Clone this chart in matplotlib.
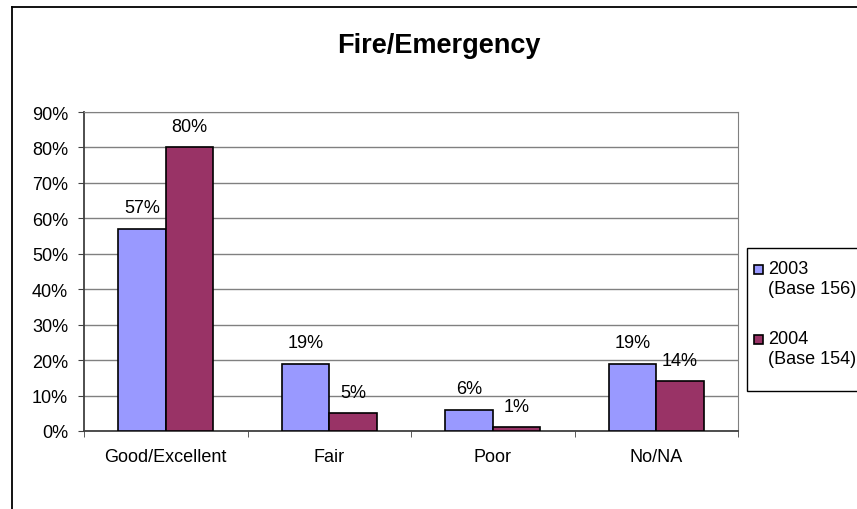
import matplotlib
matplotlib.use("Agg")
import matplotlib.pyplot as plt
from matplotlib.lines import Line2D
from matplotlib.patches import Rectangle
from matplotlib.ticker import FuncFormatter
import numpy as np

plt.rcParams['font.family'] = ['Liberation Sans', 'DejaVu Sans']

categories = ["Good/Excellent", "Fair", "Poor", "No/NA"]
values_2003 = [57, 19, 6, 19]
values_2004 = [80, 5, 1, 14]
series_names = ["2003", "2004"]
series_bases = ["(Base 156)", "(Base 154)"]
colors = ['#9999FF', '#993366']
title = "Fire/Emergency"

W, H = 857, 510
fig = plt.figure(figsize=(W / 100, H / 100), dpi=100)

def fx(px):
    return px / W

def fy(py):
    return 1 - py / H

# outer chart border (right and bottom edges fall outside the image)
fig.add_artist(Line2D([fx(12), fx(12)], [0, fy(8)], color='black', lw=1.3, transform=fig.transFigure))
fig.add_artist(Line2D([fx(12), 1], [fy(8), fy(8)], color='black', lw=1.3, transform=fig.transFigure))

ax = fig.add_axes([fx(84), fy(432), (738 - 84) / W, (432 - 113) / H])

x = np.arange(len(categories))
width = 0.29
b1 = ax.bar(x - width / 2, values_2003, width, color=colors[0], edgecolor='black', linewidth=1.2, zorder=3)
b2 = ax.bar(x + width / 2, values_2004, width, color=colors[1], edgecolor='black', linewidth=1.2, zorder=3)
ax.bar_label(b1, labels=[f"{v}%" for v in values_2003], padding=9, fontsize=13)
ax.bar_label(b2, labels=[f"{v}%" for v in values_2004], padding=9, fontsize=13)

ax.set_xlim(-0.5, len(categories) - 0.5)
ax.set_ylim(0, 90)
ax.set_yticks(np.arange(0, 91, 10))
ax.yaxis.set_major_formatter(FuncFormatter(lambda v, p: f"{v:.0f}%"))
ax.set_xticks(x)
ax.set_xticklabels(categories)
ax.set_xticks(np.arange(-0.5, len(categories), 1), minor=True)
ax.tick_params(axis='x', which='major', length=0, pad=12, labelsize=13)
ax.tick_params(axis='x', which='minor', length=4.5, direction='out', color='#404040')
ax.tick_params(axis='y', length=4.5, direction='out', color='#404040', labelsize=13, pad=7)
ax.grid(axis='y', color='#808080', linewidth=1, zorder=0)
ax.set_axisbelow(True)
for side in ['top', 'right']:
    ax.spines[side].set_color('#808080')
for side in ['left', 'bottom']:
    ax.spines[side].set_color('#404040')
    ax.spines[side].set_linewidth(1.3)

fig.text(fx(439), fy(53), title, ha='center', va='baseline', fontsize=19.5, fontweight='bold')

# legend box, its right side runs off the image as in the original
fig.add_artist(Rectangle((fx(747), fy(392)), fx(130), (392 - 249) / H, transform=fig.transFigure,
                         facecolor='white', edgecolor='black', lw=1.0))
for i, (name, base) in enumerate(zip(series_names, series_bases)):
    y0 = 270 + i * 70
    fig.add_artist(Rectangle((fx(754), fy(y0 + 4.5)), fx(9), 9 / H, transform=fig.transFigure,
                             facecolor=colors[i], edgecolor='black', lw=1.2))
    fig.text(fx(768), fy(y0), name, ha='left', va='center', fontsize=13)
    fig.text(fx(768), fy(y0 + 20), base, ha='left', va='center', fontsize=13)

fig.savefig("out.png", dpi=100, facecolor='white')
